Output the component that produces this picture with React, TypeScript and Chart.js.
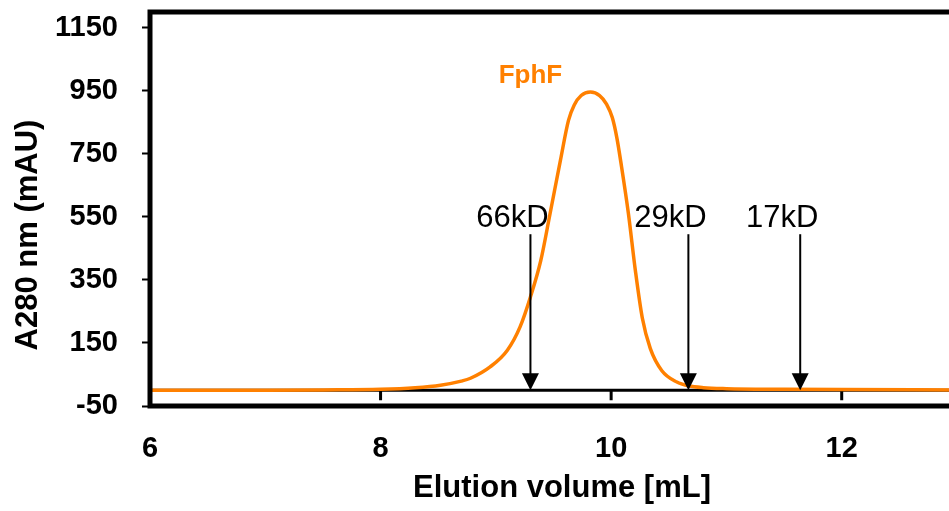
import React, { useEffect, useRef } from "react";
import { Chart, registerables } from "chart.js";

Chart.register(...registerables);

// Elution profile (mL, mAU)
const volumes = [6.0, 7.0, 7.5, 8.0, 8.3, 8.52, 8.7, 8.78, 8.95, 9.1, 9.21, 9.3, 9.39, 9.47, 9.56, 9.63, 9.68, 9.74, 9.82, 9.9, 9.96, 10.01, 10.05, 10.09, 10.15, 10.21, 10.27, 10.34, 10.44, 10.57, 10.67, 10.8, 11.0, 11.5, 12.0, 13.0];
const absorbance = [0, 0, 1, 3, 8, 16, 29, 38, 74, 127, 201, 296, 412, 560, 729, 856, 905, 935, 946, 935, 908, 865, 800, 710, 560, 380, 230, 132, 62, 26, 14, 8, 5, 3, 2, 1];

const seriesLabel = "FphF";
const seriesLabelAt = [9.3, 975];

// Molecular weight markers
const markerVolumes = [9.3, 10.67, 11.64];
const markerLabels = ["66kD", "29kD", "17kD"];
const markerTop = 495;
const markerBottom = 0;

const xTicks = [6, 8, 10, 12];
const yTicks = [-50, 150, 350, 550, 750, 950, 1150];
const xTitle = "Elution volume [mL]";
const yTitle = "A280 nm (mAU)";

const FONT = "'Liberation Sans', Arial, Helvetica, sans-serif";
const ORANGE = "#ff8000";

const decor = {
  id: "decor",
  beforeDatasetsDraw(chart: any) {
    const { ctx, chartArea, scales } = chart;
    const x = scales.x;
    const y = scales.y;
    const y0 = y.getPixelForValue(0);
    ctx.save();
    ctx.strokeStyle = "#000";
    ctx.lineWidth = 3;
    ctx.beginPath();
    ctx.moveTo(chartArea.left, y0);
    ctx.lineTo(chartArea.right, y0);
    ctx.stroke();
    ctx.beginPath();
    for (const t of xTicks) {
      if (t === x.min) continue;
      const px = x.getPixelForValue(t);
      ctx.moveTo(px, y0);
      ctx.lineTo(px, y0 + 10);
    }
    ctx.stroke();
    ctx.restore();
  },
  afterDatasetsDraw(chart: any) {
    const { ctx, chartArea, scales } = chart;
    const x = scales.x;
    const y = scales.y;
    ctx.save();
    markerVolumes.forEach((v, i) => {
      const px = x.getPixelForValue(v);
      const top = y.getPixelForValue(markerTop);
      const bot = y.getPixelForValue(markerBottom);
      ctx.strokeStyle = "#000";
      ctx.fillStyle = "#000";
      ctx.lineWidth = 2;
      ctx.beginPath();
      ctx.moveTo(px, top);
      ctx.lineTo(px, bot - 14);
      ctx.stroke();
      ctx.beginPath();
      ctx.moveTo(px - 8.5, bot - 17);
      ctx.lineTo(px + 8.5, bot - 17);
      ctx.lineTo(px, bot);
      ctx.closePath();
      ctx.fill();
      ctx.font = `31px ${FONT}`;
      ctx.textAlign = "center";
      ctx.textBaseline = "alphabetic";
      ctx.fillText(markerLabels[i], px - 18, top - 7);
    });
    ctx.fillStyle = ORANGE;
    ctx.font = `bold 26px ${FONT}`;
    ctx.textAlign = "center";
    ctx.textBaseline = "alphabetic";
    ctx.fillText(seriesLabel, x.getPixelForValue(seriesLabelAt[0]), y.getPixelForValue(seriesLabelAt[1]));
    ctx.strokeStyle = "#000";
    ctx.lineWidth = 5;
    ctx.strokeRect(chartArea.left, chartArea.top, chartArea.right - chartArea.left, chartArea.bottom - chartArea.top);
    ctx.restore();
  },
  afterDraw(chart: any) {
    const { ctx } = chart;
    ctx.save();
    ctx.fillStyle = "#000";
    ctx.font = `bold 31px ${FONT}`;
    ctx.textAlign = "center";
    ctx.textBaseline = "alphabetic";
    ctx.fillText(xTitle, 562, 497);
    ctx.translate(28, 235);
    ctx.rotate(-Math.PI / 2);
    ctx.textBaseline = "middle";
    ctx.fillText(yTitle, 0, 0);
    ctx.restore();
  },
};

export default function App() {
  const ref = useRef<HTMLCanvasElement>(null);
  useEffect(() => {
    if (!ref.current) return;
    const chart = new Chart(ref.current, {
      type: "line",
      data: {
        datasets: [
          {
            label: seriesLabel,
            data: volumes.map((v, i) => ({ x: v, y: absorbance[i] })),
            borderColor: ORANGE,
            borderWidth: 3.5,
            pointRadius: 0,
            fill: false,
            cubicInterpolationMode: "monotone",
          },
        ],
      },
      options: {
        responsive: false,
        animation: false,
        layout: { padding: { left: 0, top: 12, right: 3, bottom: 0 } },
        plugins: { legend: { display: false }, tooltip: { enabled: false } },
        scales: {
          x: {
            type: "linear",
            min: 6,
            max: 13,
            afterBuildTicks: (s: any) => {
              s.ticks = xTicks.map((v) => ({ value: v }));
            },
            afterFit: (s: any) => {
              s.height = 105;
              s.paddingLeft = 0;
              s.paddingRight = 0;
            },
            grid: { drawOnChartArea: false, drawTicks: false },
            border: { display: false },
            ticks: {
              font: { family: FONT, size: 29, weight: "bold" },
              color: "#000",
              padding: 26,
              maxRotation: 0,
              autoSkip: false,
              callback: (v: any) => String(v),
            },
          },
          y: {
            type: "linear",
            min: -50,
            max: 1200,
            afterBuildTicks: (s: any) => {
              s.ticks = yTicks.map((v) => ({ value: v }));
            },
            afterFit: (s: any) => {
              s.width = 150;
              s.paddingTop = 0;
              s.paddingBottom = 0;
            },
            grid: { drawOnChartArea: false, tickLength: 8, tickWidth: 2, tickColor: "#000" },
            border: { display: false },
            ticks: {
              font: { family: FONT, size: 29, weight: "bold" },
              color: "#000",
              padding: 24,
              autoSkip: false,
              callback: (v: any) => String(v),
            },
          },
        },
      },
      plugins: [decor],
    });
    return () => chart.destroy();
  }, []);
  return (
    <div style={{ position: "fixed", left: 0, top: 0, width: 949, height: 511, overflow: "hidden", background: "#fff" }}>
      <canvas ref={ref} width={960} height={511} style={{ display: "block" }} />
    </div>
  );
}
